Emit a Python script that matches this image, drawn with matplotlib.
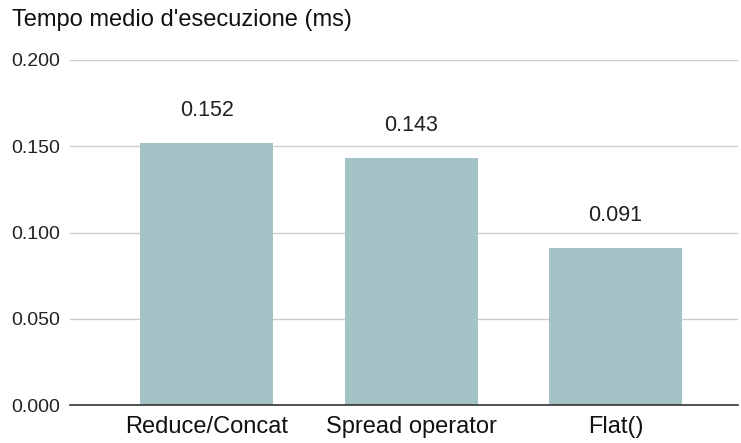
import matplotlib.pyplot as plt
import numpy as np

# Data
categories = ['Reduce/Concat', 'Spread operator', 'Flat()']
values = [0.152, 0.143, 0.091]
value_labels = ['0.152', '0.143', '0.091']
y_ticks = [0.0, 0.05, 0.10, 0.15, 0.20]
y_tick_labels = ['0.000', '0.050', '0.100', '0.150', '0.200']

plt.rcParams['font.family'] = ['Liberation Sans', 'DejaVu Sans']

fig = plt.figure(figsize=(7.41, 4.43), dpi=100)
ax = fig.add_axes([70 / 741, 38 / 443, 668 / 741, 345 / 443])

x = np.arange(len(categories))
ax.bar(x, values, width=0.65, color='#a3c3c7', zorder=2)

# Value labels above bars
for xi, v, lab in zip(x, values, value_labels):
    ax.annotate(lab, (xi, v), xytext=(0, 23.5), textcoords='offset points',
                ha='center', va='center', fontsize=15.5, color='#202020')

ax.set_xlim(-0.67, 2.6)
ax.set_ylim(0, 0.2)
ax.set_yticks(y_ticks)
ax.set_yticklabels(y_tick_labels)
ax.set_xticks(x)
ax.set_xticklabels(categories)

ax.grid(axis='y', color='#cccccc', linewidth=1, zorder=0)
for side in ['top', 'right', 'left']:
    ax.spines[side].set_visible(False)
ax.spines['bottom'].set_color('#333333')
ax.spines['bottom'].set_linewidth(1.2)
ax.spines['bottom'].set_zorder(3)

ax.tick_params(axis='y', length=0, pad=7, labelsize=14, labelcolor='#222222')
ax.tick_params(axis='x', length=0, pad=8, labelsize=17, labelcolor='#111111')

fig.text(12 / 741, 1 - 20 / 443, "Tempo medio d'esecuzione (ms)",
         fontsize=17, ha='left', va='center', color='#111111')

fig.savefig('out.png', dpi=100)
